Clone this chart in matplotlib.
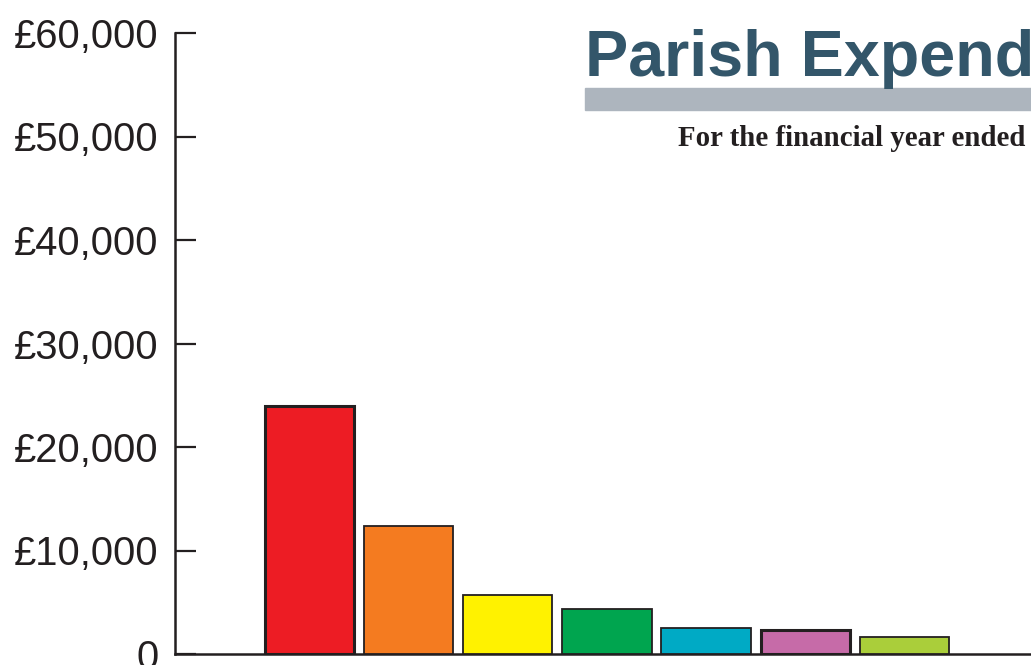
import matplotlib.pyplot as plt
import matplotlib.patches as mpatches

# data
categories = ["A", "B", "C", "D", "E", "F", "G"]
values = [23950, 12350, 5700, 4350, 2500, 2300, 1650]
yticks = [0, 10000, 20000, 30000, 40000, 50000, 60000]
ytick_labels = ["0", "£10,000", "£20,000", "£30,000", "£40,000", "£50,000", "£60,000"]

colors = ["#ED1C24", "#F47B20", "#FFF200", "#00A54F", "#00AAC5", "#C66BA8", "#AACE3A"]
edge_widths = [2.2, 1.3, 1.3, 1.3, 1.3, 2.2, 1.3]

W, H = 1031, 665
fig = plt.figure(figsize=(W / 100, H / 100), dpi=100)
ax = fig.add_axes([175 / W, 11 / H, 1 - 175 / W, (654 - 33) / H])

x = list(range(len(values)))
ax.bar(x, values, width=0.9, color=colors, edgecolor="#231F20", linewidth=edge_widths, zorder=3)

ax.set_xlim(-1.36, 7.28)
ax.set_ylim(0, 60000)
ax.set_yticks(yticks)
ax.set_yticklabels(ytick_labels, family="Liberation Sans", fontsize=28.8, color="#231F20")
ax.set_xticks([])
ax.tick_params(axis="y", direction="in", length=15, width=1.6, color="#231F20", pad=12)
for s in ["top", "right"]:
    ax.spines[s].set_visible(False)
for s in ["left", "bottom"]:
    ax.spines[s].set_linewidth(1.8)
    ax.spines[s].set_color("#231F20")

# title block (runs off the right edge as in the reference)
fig.text(585 / W, 1 - 76 / H, "Parish Expenditure", family="Liberation Sans",
         fontweight="bold", fontsize=46.5, color="#33566A", ha="left", va="baseline")
fig.patches.append(mpatches.Rectangle((585 / W, 1 - 110 / H), 1, 22 / H,
                                      transform=fig.transFigure, color="#ADB5BE"))
fig.text(678 / W, 1 - 146 / H, "For the financial year ended",
         family="Liberation Serif", fontweight="bold", fontsize=20.8,
         color="#231F20", ha="left", va="baseline")

fig.savefig("out.png", dpi=100)
